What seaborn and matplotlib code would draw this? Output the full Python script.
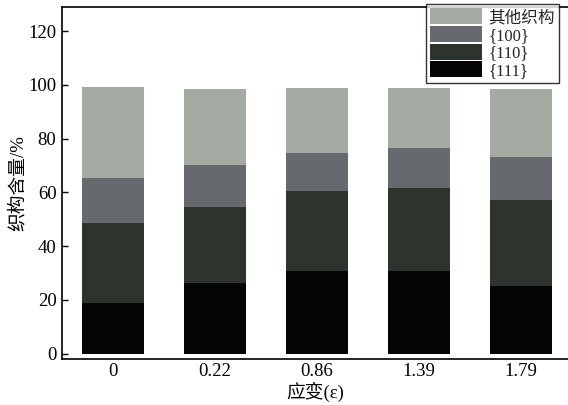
import matplotlib
matplotlib.use("Agg")
import matplotlib.pyplot as plt
import pandas as pd
import seaborn as sns

# 数据
strains = ["0", "0.22", "0.86", "1.39", "1.79"]
tex_111 = [18.8, 26.2, 30.6, 30.6, 25.3]
tex_110 = [29.7, 28.5, 29.9, 30.9, 31.9]
tex_100 = [16.8, 15.5, 14.0, 14.9, 15.8]
tex_other = [33.8, 28.4, 24.2, 22.6, 25.3]
series_names = ["{111}", "{110}", "{100}", "其他织构"]
colors = ["#050505", "#2c342d", "#66696e", "#a3aba3"]

sns.set_theme(style="white")
plt.rcParams["font.family"] = ["Liberation Serif", "Noto Sans CJK SC"]
plt.rcParams["axes.unicode_minus"] = False

df = pd.DataFrame({"strain": strains, "{111}": tex_111, "{110}": tex_110,
                   "{100}": tex_100, "其他织构": tex_other})

fig = plt.figure(figsize=(5.68, 4.05), dpi=100)
ax = fig.add_axes([62 / 568, 1 - 359 / 405, 1 - 62 / 568, (359 - 7) / 405])

bottom = [0.0] * len(strains)
for name, col in zip(series_names, colors):
    tops = [b + v for b, v in zip(bottom, df[name])]
    sns.barplot(x=df["strain"], y=tops, color=col, width=0.6, ax=ax,
                saturation=1, label=name)
    bottom = tops

# 累计高度从低到高绘制，需把较低的层放到上面
for i, cont in enumerate(ax.containers):
    for p in cont:
        p.set_zorder(10 - i)
        p.set_edgecolor("none")

ax.set_xlim(-0.5, 4.46)
ax.set_ylim(-2, 129)
ax.set_yticks([0, 20, 40, 60, 80, 100, 120])
ax.tick_params(axis="y", direction="in", length=4, width=1, left=True,
               labelsize=13.5, colors="black", pad=4)
ax.tick_params(axis="x", length=0, labelsize=13.5, colors="black", pad=3)
for s in ["left", "bottom", "top"]:
    ax.spines[s].set_color("black")
    ax.spines[s].set_linewidth(1.2)
ax.spines["right"].set_visible(False)

ax.set_xlabel("应变(ε)", fontsize=13.5, color="black", labelpad=1)
ax.set_ylabel("织构含量/%", fontsize=13.5, color="black", labelpad=1)

h, l = ax.get_legend_handles_labels()
leg = ax.legend(h[::-1], l[::-1], loc="upper right", bbox_to_anchor=(0.983, 1.008),
                fontsize=12, frameon=True, fancybox=False, edgecolor="black",
                handlelength=3.1, handleheight=1.1, labelspacing=0.0,
                borderpad=0.25, handletextpad=0.4, borderaxespad=0.0)
leg.get_frame().set_linewidth(1.0)
leg.set_zorder(20)

fig.savefig("out.png", dpi=100)
